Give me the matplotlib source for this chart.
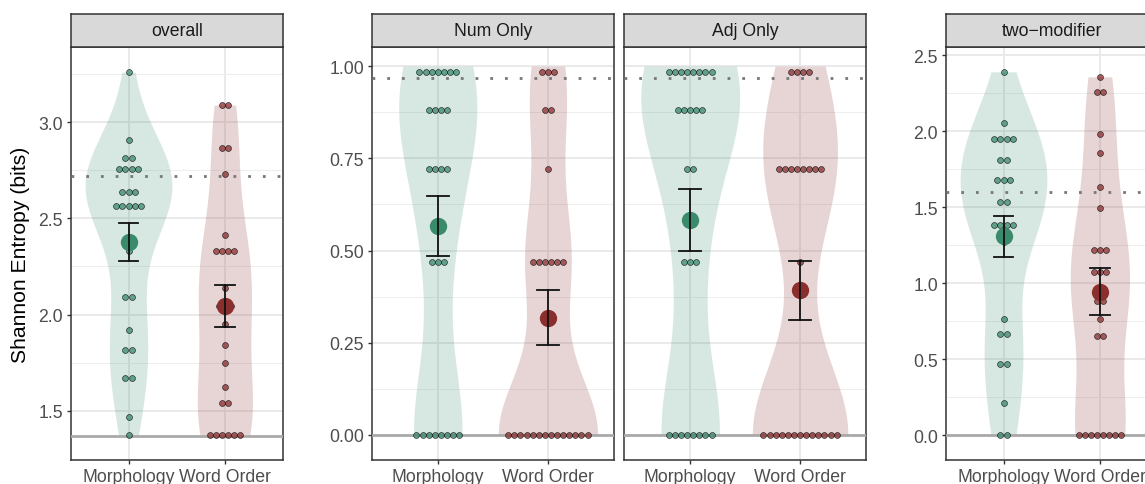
import numpy as np
import matplotlib.pyplot as plt

plt.rcParams['font.family'] = ['Liberation Sans', 'DejaVu Sans']

W, H = 1145, 485

groups = ["Morphology", "Word Order"]

# per-participant entropy scores, one list per condition and group
overall_morph = [3.261, 2.908, 2.814, 2.814, 2.756, 2.756, 2.756, 2.756, 2.638, 2.638,
                 2.638, 2.565, 2.565, 2.565, 2.565, 2.565, 2.330, 2.092, 2.092, 1.919,
                 1.815, 1.815, 1.671, 1.671, 1.466, 1.374]
overall_word = [3.090, 3.090, 2.868, 2.868, 2.733, 2.413, 2.330, 2.330, 2.330, 2.330,
                2.139, 2.045, 2.045, 2.045, 1.953, 1.840, 1.748, 1.622, 1.540, 1.540,
                1.374, 1.374, 1.374, 1.374, 1.374, 1.374]

num_morph = [1.0, 1.0, 1.0, 1.0, 0.971, 0.971, 0.971, 0.881, 0.881, 0.881,
             0.881, 0.722, 0.722, 0.722, 0.722, 0.469, 0.469, 0.469, 0.0, 0.0,
             0.0, 0.0, 0.0, 0.0, 0.0, 0.0]
num_word = [1.0, 1.0, 0.971, 0.881, 0.881, 0.722, 0.469, 0.469, 0.469, 0.469,
            0.469, 0.469, 0.0, 0.0, 0.0, 0.0, 0.0, 0.0, 0.0, 0.0,
            0.0, 0.0, 0.0, 0.0, 0.0, 0.0]

adj_morph = [1.0, 1.0, 1.0, 1.0, 0.971, 0.971, 0.971, 0.971, 0.881, 0.881,
             0.881, 0.881, 0.881, 0.722, 0.722, 0.469, 0.469, 0.469, 0.0, 0.0,
             0.0, 0.0, 0.0, 0.0, 0.0, 0.0]
adj_word = [1.0, 1.0, 0.971, 0.971, 0.722, 0.722, 0.722, 0.722, 0.722, 0.722,
            0.722, 0.722, 0.469, 0.0, 0.0, 0.0, 0.0, 0.0, 0.0, 0.0,
            0.0, 0.0, 0.0, 0.0, 0.0, 0.0]

two_morph = [2.390, 2.055, 1.946, 1.946, 1.946, 1.946, 1.808, 1.808, 1.677, 1.677,
             1.677, 1.534, 1.534, 1.383, 1.383, 1.383, 1.383, 1.270, 0.765, 0.662,
             0.662, 0.468, 0.468, 0.212, 0.0, 0.0]
two_word = [2.357, 2.255, 2.255, 1.983, 1.856, 1.633, 1.493, 1.217, 1.217, 1.217,
            1.076, 1.076, 1.076, 0.879, 0.879, 0.765, 0.649, 0.649, 0.0, 0.0,
            0.0, 0.0, 0.0, 0.0, 0.0, 0.0]

# reference entropy (dotted) and floor (solid) for each plot
overall_ref, overall_floor = 2.72, 1.37
single_ref, single_floor = 0.969, 0.0
two_ref, two_floor = 1.60, 0.0

morph_color = "#3a8a6c"
word_color = "#8b2e2e"
colors = [morph_color, word_color]

DOT_PX = 6.1


def kde(vals, grid):
    v = np.asarray(vals, dtype=float)
    n = len(v)
    q1, q3 = np.percentile(v, [25, 75])
    spread = v.std(ddof=1)
    if q3 > q1:
        spread = min(spread, (q3 - q1) / 1.34)
    bw = 0.9 * spread * n ** -0.2
    z = (grid[:, None] - v[None, :]) / bw
    return np.exp(-0.5 * z ** 2).sum(axis=1) / (n * bw * np.sqrt(2 * np.pi))


def dot_bins(vals, binwidth):
    # dot-density binning: each bin opens at its smallest value,
    # dots sit at the middle of the values it holds
    v = sorted(vals)
    out = []
    i = 0
    while i < len(v):
        j = i
        while j + 1 < len(v) and v[j + 1] < v[i] + binwidth:
            j += 1
        out.append(((v[i] + v[j]) / 2, j - i + 1))
        i = j + 1
    return out


def add_panel(fig, x0, x1, title):
    ax = fig.add_axes([x0 / W, 1 - 461 / H, (x1 - x0) / W, (461 - 48) / H])
    strip = fig.add_axes([x0 / W, 1 - 48 / H, (x1 - x0) / W, 33 / H])
    strip.set_facecolor("#d9d9d9")
    strip.set_xticks([])
    strip.set_yticks([])
    for s in strip.spines.values():
        s.set_color("#333333")
        s.set_linewidth(1.1)
    strip.text(0.5, 0.5, title, transform=strip.transAxes, ha="center", va="center",
               fontsize=12.7, color="#1a1a1a")
    return ax


def draw_panel(ax, data, ylim, ticks, ticklabels, minor, ref, floor, binwidth,
               show_y=True):
    ax.set_xlim(0.4, 2.6)
    ax.set_ylim(*ylim)
    ax.set_axisbelow(True)
    ax.set_xticks([1, 2])
    ax.set_xticklabels(groups)
    ax.set_yticks(ticks)
    ax.set_yticks(minor, minor=True)
    ax.grid(True, which="major", color="#e8e8e8", lw=1.3)
    ax.grid(True, which="minor", axis="y", color="#eeeeee", lw=0.7)
    ax.tick_params(axis="both", which="major", length=3, width=1.0, color="#333333",
                   labelsize=12.7, labelcolor="#4d4d4d")
    ax.tick_params(axis="x", pad=2.5)
    ax.tick_params(axis="y", pad=2.5)
    ax.tick_params(which="minor", length=0)
    if show_y:
        ax.set_yticklabels(ticklabels)
    else:
        ax.tick_params(axis="y", length=0, labelleft=False)
    for s in ax.spines.values():
        s.set_color("#333333")
        s.set_linewidth(1.1)

    # violins, scaled by area within the panel
    dens = []
    for vals in data:
        grid = np.linspace(min(vals), max(vals), 512)
        dens.append((grid, kde(vals, grid)))
    top = max(d.max() for _, d in dens)
    for i, (grid, d) in enumerate(dens):
        half = 0.45 * d / top
        ax.fill_betweenx(grid, i + 1 - half, i + 1 + half, color=colors[i], alpha=0.2,
                         lw=0, zorder=2)

    ax.axhline(floor, color="#a9a9a9", lw=2.0, zorder=3)
    ax.axhline(ref, color="#777777", lw=2.0, linestyle=(0, (1, 4.3)), zorder=3)

    # stacked dots, centred on each group
    px_per_unit = ax.get_position().width * W / 2.2
    step = DOT_PX / px_per_unit
    for i, vals in enumerate(data):
        for y, k in dot_bins(vals, binwidth):
            xs = i + 1 + (np.arange(k) - (k - 1) / 2) * step
            ax.scatter(xs, [y] * k, s=18, color=colors[i], alpha=0.75,
                       edgecolor="black", linewidth=0.5, zorder=4)

    # mean with standard error
    for i, vals in enumerate(data):
        v = np.asarray(vals)
        m = v.mean()
        se = v.std(ddof=1) / np.sqrt(len(v))
        ax.scatter([i + 1], [m], s=156, color=colors[i], lw=0, zorder=5)
        ax.plot([i + 1, i + 1], [m - se, m + se], color="#111111", lw=1.3, zorder=6)
        for y in (m - se, m + se):
            ax.plot([i + 0.9, i + 1.1], [y, y], color="#111111", lw=1.3, zorder=6)


fig = plt.figure(figsize=(W / 100, H / 100), dpi=100)

ax1 = add_panel(fig, 70.7, 282.7, "overall")
draw_panel(ax1, [overall_morph, overall_word], (1.243, 3.392),
           [1.5, 2.0, 2.5, 3.0], ["1.5", "2.0", "2.5", "3.0"],
           [1.25, 1.75, 2.25, 2.75, 3.25], overall_ref, overall_floor, 0.04)

ax2 = add_panel(fig, 371.7, 614.0, "Num Only")
draw_panel(ax2, [num_morph, num_word], (-0.068, 1.052),
           [0, 0.25, 0.5, 0.75, 1.0], ["0.00", "0.25", "0.50", "0.75", "1.00"],
           [0.125, 0.375, 0.625, 0.875], single_ref, single_floor, 1 / 30)

ax3 = add_panel(fig, 624.3, 866.0, "Adj Only")
draw_panel(ax3, [adj_morph, adj_word], (-0.068, 1.052),
           [0, 0.25, 0.5, 0.75, 1.0], ["0.00", "0.25", "0.50", "0.75", "1.00"],
           [0.125, 0.375, 0.625, 0.875], single_ref, single_floor, 1 / 30,
           show_y=False)

ax4 = add_panel(fig, 945.7, 1157.7, "two\u2212modifier")
draw_panel(ax4, [two_morph, two_word], (-0.164, 2.553),
           [0, 0.5, 1.0, 1.5, 2.0, 2.5], ["0.0", "0.5", "1.0", "1.5", "2.0", "2.5"],
           [0.25, 0.75, 1.25, 1.75, 2.25], two_ref, two_floor, 0.04)

fig.text(21 / W, 1 - 255 / H, "Shannon Entropy (bits)", rotation=90, ha="center",
         va="center", fontsize=15.2, color="black")

fig.savefig("out.png", dpi=100)
